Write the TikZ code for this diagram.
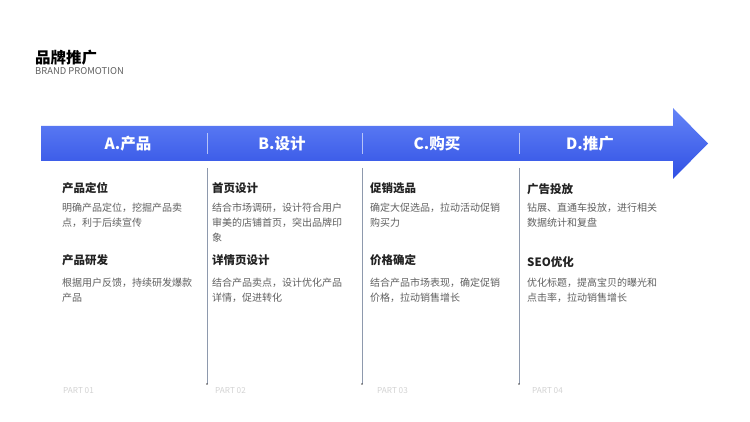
\documentclass[tikz,border=0pt]{standalone}
\usepackage{fontspec}
\setmainfont{Noto Sans CJK SC}
\definecolor{arrowtop}{RGB}{100,132,247}
\definecolor{arrowbot}{RGB}{48,80,228}
\definecolor{headtxt}{RGB}{34,34,34}
\definecolor{desctxt}{RGB}{95,95,95}
\definecolor{sepline}{RGB}{142,153,173}
\definecolor{parttxt}{RGB}{210,210,210}
\begin{document}
\begin{tikzpicture}
    [x=1pt,y=-1pt,
     stage/.style={font=\fontsize{15.5}{18}\selectfont\bfseries,text=white,inner sep=0},
     item/.style={anchor=north west,inner sep=0,font=\fontsize{11.5}{14}\selectfont\bfseries,text=headtxt},
     desc/.style={anchor=north west,inner sep=0,align=left,font=\fontsize{10}{15}\selectfont,text=desctxt},
     part/.style={anchor=west,inner sep=0,font=\fontsize{8.2}{9}\selectfont,text=parttxt},
     sep/.style={draw=sepline,line width=0.8pt}]
    \useasboundingbox (0,0) rectangle (750,422);

    % title
    \node[anchor=north west,inner sep=0,font=\fontsize{15.5}{18}\selectfont\bfseries,text=black] (title) at (35,49.5) {品牌推广};
    \node[anchor=west,inner sep=0,font=\fontsize{9.4}{11}\selectfont,text=desctxt] (subtitle) at (35,71.5) {BRAND PROMOTION};

    % arrow
    \shade[top color=arrowtop,bottom color=arrowbot]
      (41,126) -- (673,126) -- (673,108) -- (708,143.5) -- (673,179) -- (673,161) -- (41,161) -- cycle;
    \draw[white,opacity=0.6,line width=0.8pt] (207,133) -- (207,154);
    \draw[white,opacity=0.6,line width=0.8pt] (362,133) -- (362,154);
    \draw[white,opacity=0.6,line width=0.8pt] (519,133) -- (519,154);

    \node[stage] (A) at (128,143.5) {A.产品};
    \node[stage] (B) at (282,143.5) {B.设计};
    \node[stage] (C) at (437,143.5) {C.购买};
    \node[stage] (D) at (590,143.5) {D.推广};

    % column separators
    \coordinate (s1) at (207,168);
    \coordinate (e1) at (207,384);
    \coordinate (s2) at (362,168);
    \coordinate (e2) at (362,384);
    \coordinate (s3) at (519,168);
    \coordinate (e3) at (519,384);
    \draw[sep] (s1) -- (e1);
    \draw[sep] (s2) -- (e2);
    \draw[sep] (s3) -- (e3);
    \fill[black!70] (e1) circle (0.9);
    \fill[black!70] (e2) circle (0.9);
    \fill[black!70] (e3) circle (0.9);

    % column A
    \node[item] (a1) at (62,182.5) {产品定位};
    \node[desc] (a1d) at (62,203) {明确产品定位，挖掘产品卖\\点，利于后续宣传};
    \node[item] (a2) at (62,254.5) {产品研发};
    \node[desc] (a2d) at (62,278) {根据用户反馈，持续研发爆款\\产品};

    % column B
    \node[item] (b1) at (212,182.5) {首页设计};
    \node[desc] (b1d) at (212,203) {结合市场调研，设计符合用户\\审美的店铺首页，突出品牌印\\象};
    \node[item] (b2) at (212,254.5) {详情页设计};
    \node[desc] (b2d) at (212,278) {结合产品卖点，设计优化产品\\详情，促进转化};

    % column C
    \node[item] (c1) at (370,182.5) {促销选品};
    \node[desc] (c1d) at (370,203) {确定大促选品，拉动活动促销\\购买力};
    \node[item] (c2) at (370,254.5) {价格确定};
    \node[desc] (c2d) at (370,278) {结合产品市场表现，确定促销\\价格，拉动销售增长};

    % column D
    \node[item] (d1) at (527,183) {广告投放};
    \node[desc] (d1d) at (527,203) {钻展、直通车投放，进行相关\\数据统计和复盘};
    \node[item] (d2) at (527,256) {SEO优化};
    \node[desc] (d2d) at (527,278) {优化标题，提高宝贝的曝光和\\点击率，拉动销售增长};

    % part labels
    \node[part] (p1) at (63,391) {PART 01};
    \node[part] (p2) at (215,391) {PART 02};
    \node[part] (p3) at (377,391) {PART 03};
    \node[part] (p4) at (532,391) {PART 04};
\end{tikzpicture}
\end{document}
